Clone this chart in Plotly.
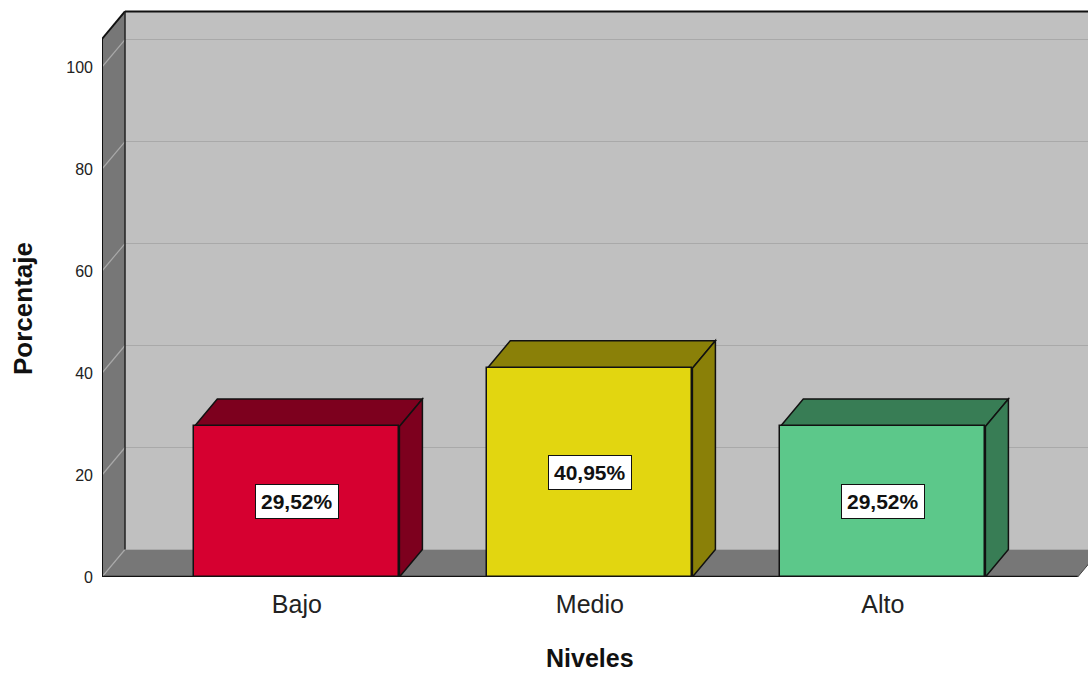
import plotly.graph_objects as go

# Data
categories = ["Bajo", "Medio", "Alto"]
percentages = [29.52, 40.95, 29.52]
value_labels = ["29,52%", "40,95%", "29,52%"]
y_ticks = [0, 20, 40, 60, 80, 100]

# Styling
front_colors = ["#d60030", "#e2d610", "#5cc88a"]
shade_colors = ["#7d001e", "#8a8008", "#387d55"]
WALL_BACK = "#c0c0c0"
WALL_SIDE = "#777777"
GRID = "#a9a9a9"

# Figure geometry (pixels) used to derive the 3D depth in data units
W, H_PX = 1088, 673
M_L, M_R, M_T, M_B = 102, 0, 0, 96
PLOT_W = W - M_L - M_R
PLOT_H = H_PX - M_T - M_B

Y_MAX = 113.14
X_MIN, X_MAX = -0.665, -0.665 + PLOT_W / 293.0
px_per_x = PLOT_W / (X_MAX - X_MIN)
px_per_y = PLOT_H / Y_MAX

DEPTH_X_PX, DEPTH_Y_PX = 23, 27.5
DX = DEPTH_X_PX / px_per_x
DY = DEPTH_Y_PX / px_per_y

X0 = X_MIN               # front-left edge of the floor / left wall
X1 = 2.665               # front-right edge of the floor
WALL_TOP = 105.5         # wall height on the front plane
BAR_W = 0.70

shapes = []


def poly(points, fill, line_color=None, line_width=0):
    d = "M " + " L ".join(f"{x},{y}" for x, y in points) + " Z"
    shapes.append(dict(
        type="path", path=d, xref="x", yref="y", fillcolor=fill,
        line=dict(color=line_color or fill, width=line_width), layer="below",
    ))


def seg(xa, ya, xb, yb, color, width):
    shapes.append(dict(
        type="line", x0=xa, y0=ya, x1=xb, y1=yb, xref="x", yref="y",
        line=dict(color=color, width=width), layer="below",
    ))


# Back wall, left wall and floor
RIGHT = X_MAX + 0.2
poly([(X0 + DX, DY), (RIGHT, DY), (RIGHT, WALL_TOP + DY), (X0 + DX, WALL_TOP + DY)], WALL_BACK)
poly([(X0, 0), (X0, WALL_TOP), (X0 + DX, WALL_TOP + DY), (X0 + DX, DY)], WALL_SIDE)
poly([(X0, 0), (X1, 0), (X1 + DX, DY), (X0 + DX, DY)], WALL_SIDE)

# Gridlines on the left wall and the back wall
for v in y_ticks:
    seg(X0, v, X0 + DX, v + DY, GRID, 1.2)
    if v > 0:
        seg(X0 + DX, v + DY, RIGHT, v + DY, GRID, 1.2)

# Box edges
seg(X0, 0, X0, WALL_TOP, "#111111", 2)
seg(X0, WALL_TOP, X0 + DX, WALL_TOP + DY, "#111111", 2)
seg(X0 + DX, WALL_TOP + DY, RIGHT, WALL_TOP + DY, "#111111", 2)
seg(X0 + DX, DY, X0 + DX, WALL_TOP + DY, "#222222", 1.5)
seg(X0, 0, X1, 0, "#111111", 2.5)
seg(X1, 0, X1 + DX, DY, "#444444", 1)

# Top and side faces of each bar
for i, v in enumerate(percentages):
    xl, xr = i - BAR_W / 2, i + BAR_W / 2
    poly([(xl, v), (xr, v), (xr + DX, v + DY), (xl + DX, v + DY)],
         shade_colors[i], "#111111", 1.5)
    poly([(xr, 0), (xr, v), (xr + DX, v + DY), (xr + DX, DY)],
         shade_colors[i], "#111111", 1.5)

fig = go.Figure()
fig.add_trace(go.Bar(
    x=list(range(len(categories))), y=percentages, width=BAR_W,
    marker=dict(color=front_colors, line=dict(color="#111111", width=1.5)),
    hoverinfo="skip", showlegend=False,
))

annotations = []
for i, (v, lab) in enumerate(zip(percentages, value_labels)):
    annotations.append(dict(
        x=i, y=v / 2, xref="x", yref="y", text=f"<b>{lab}</b>", showarrow=False,
        font=dict(family="Liberation Sans Narrow, Arial Narrow, Liberation Sans", size=21, color="#111111"),
        bgcolor="#ffffff", bordercolor="#111111", borderwidth=1, borderpad=5,
    ))

# Axis titles
annotations.append(dict(
    x=(23 - M_L) / PLOT_W, y=(PLOT_H - 309) / PLOT_H, xref="paper", yref="paper",
    xanchor="center", yanchor="middle",
    text="<b>Porcentaje</b>", textangle=-90, showarrow=False,
    font=dict(family="Liberation Sans, Arial", size=26, color="#111111"),
))
annotations.append(dict(
    x=(590 - M_L) / PLOT_W, y=(PLOT_H - 658) / PLOT_H, xref="paper", yref="paper",
    xanchor="center", yanchor="middle",
    text="<b>Niveles</b>", showarrow=False,
    font=dict(family="Liberation Sans, Arial", size=25, color="#111111"),
))

fig.update_layout(
    width=W, height=H_PX,
    margin=dict(l=M_L, r=M_R, t=M_T, b=M_B),
    paper_bgcolor="white", plot_bgcolor="white",
    shapes=shapes, annotations=annotations,
    bargap=0,
    xaxis=dict(
        range=[X_MIN, X_MAX], tickvals=list(range(len(categories))), ticktext=categories,
        showgrid=False, zeroline=False, showline=False, ticks="",
        tickfont=dict(family="Liberation Sans, Arial", size=25, color="#222222"),
        ticklabelstandoff=10, fixedrange=True,
    ),
    yaxis=dict(
        range=[0, Y_MAX], tickvals=y_ticks, ticktext=[str(t) for t in y_ticks],
        showgrid=False, zeroline=False, showline=False, ticks="",
        tickfont=dict(family="Liberation Sans, Arial", size=16, color="#222222"),
        ticklabelstandoff=8, fixedrange=True,
    ),
)

fig.write_html("out.html")
